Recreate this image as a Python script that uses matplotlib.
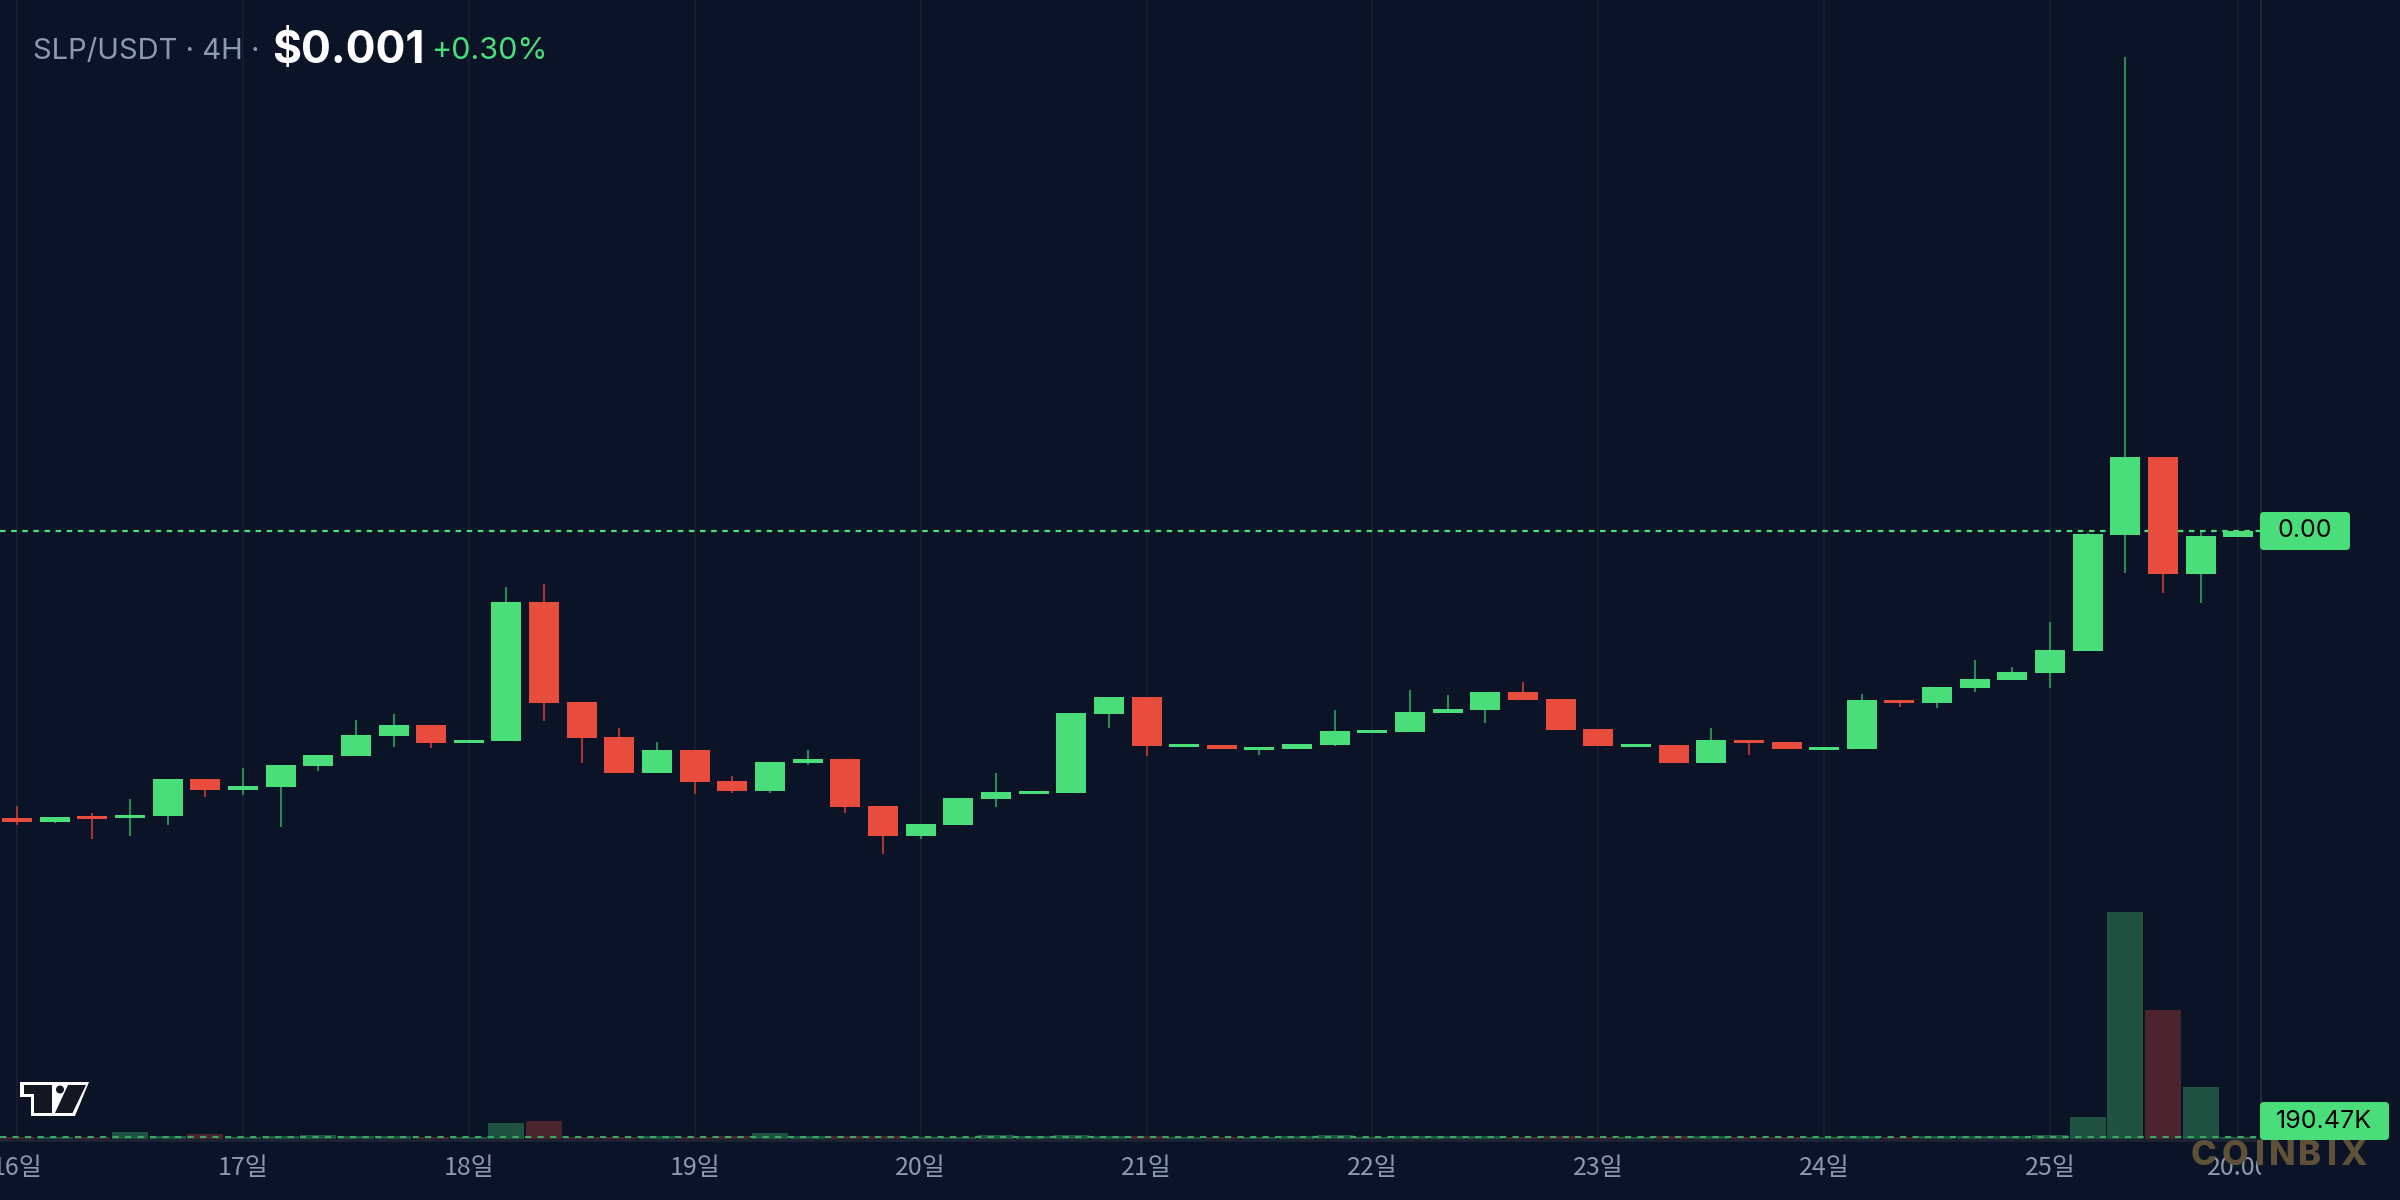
import numpy as np
import matplotlib
matplotlib.use("Agg")
import matplotlib.pyplot as plt
from matplotlib.patches import Polygon, Circle, FancyBboxPatch
from matplotlib.transforms import IdentityTransform

# prices in millionths of a USDT (4H candles, 16th 00:00 -> 25th 20:00)
opens = [850.8, 848.8, 851.8, 850.9, 852.0, 871.0, 865.5, 867.0, 878.0, 883.2,
         893.6, 899.1, 889.9, 890.9, 963.1, 911.1, 892.9, 874.3, 886.1, 870.0,
         865.0, 879.5, 881.4, 857.0, 841.6, 847.3, 860.8, 863.4, 863.9, 905.0,
         913.7, 887.8, 888.7, 886.3, 886.8, 888.9, 895.1, 895.6, 905.5, 907.1,
         916.3, 912.6, 897.0, 887.8, 888.7, 879.5, 891.3, 890.3, 886.3, 886.8,
         912.1, 910.7, 918.5, 922.7, 926.3, 937.8, 998.1, 1038.5, 977.8, 997.0]
highs = [857.0, 851.3, 853.4, 860.6, 871.0, 871.0, 876.8, 878.3, 883.5, 901.7,
         904.8, 899.1, 891.3, 970.9, 972.4, 911.1, 897.6, 890.3, 886.1, 872.6,
         879.9, 886.1, 881.4, 857.0, 847.6, 861.2, 874.2, 864.8, 905.4, 913.7,
         913.7, 889.2, 888.7, 887.7, 889.2, 906.9, 896.5, 917.3, 914.7, 916.3,
         921.5, 912.6, 897.0, 889.2, 888.7, 897.6, 891.3, 890.3, 887.7, 915.2,
         912.1, 918.9, 932.9, 929.3, 952.7, 999.0, 1246.5, 1038.5, 999.5, 1000.0]
lows = [847.1, 848.3, 840.0, 841.6, 847.1, 861.8, 862.9, 846.2, 875.4, 883.2,
        887.8, 887.3, 889.9, 890.9, 901.4, 879.5, 874.3, 874.3, 863.4, 863.9,
        863.9, 878.3, 853.4, 832.2, 840.0, 847.3, 856.6, 863.4, 863.9, 897.7,
        883.2, 887.8, 886.8, 883.7, 886.8, 888.4, 895.1, 895.6, 905.5, 900.3,
        912.3, 896.7, 888.4, 887.8, 879.5, 879.5, 883.7, 886.8, 886.3, 886.8,
        908.6, 908.1, 916.4, 922.7, 918.5, 937.8, 978.3, 967.9, 962.7, 997.0]
closes = [848.8, 851.3, 850.4, 852.3, 871.0, 865.5, 867.4, 878.3, 883.5, 893.9,
          899.1, 889.9, 891.3, 963.1, 910.7, 892.5, 874.3, 886.1, 869.6, 865.0,
          879.9, 881.4, 856.6, 841.6, 847.6, 861.2, 864.3, 864.8, 905.4, 913.7,
          888.4, 889.2, 886.8, 887.7, 889.2, 896.0, 896.5, 905.9, 907.4, 916.3,
          912.3, 896.7, 888.4, 889.2, 879.5, 891.3, 889.9, 886.8, 887.7, 912.1,
          910.7, 918.9, 923.0, 926.7, 938.1, 998.4, 1038.5, 977.8, 997.4, 1000.0]
# volume in thousands
volumes = [200, 210, 180, 680, 290, 480, 230, 260, 390, 300,
           280, 220, 200, 1520, 1710, 220, 200, 250, 230, 260,
           570, 270, 300, 240, 200, 230, 360, 250, 380, 310,
           300, 230, 220, 210, 260, 360, 220, 290, 240, 270,
           200, 260, 230, 200, 250, 280, 200, 210, 190, 300,
           210, 260, 270, 250, 380, 2090, 21560, 12250, 4940, 190.47]

day_labels = ["16일", "17일", "18일", "19일", "20일", "21일", "22일", "23일", "24일", "25일", "20:00"]
day_hours = [0, 24, 48, 72, 96, 120, 144, 168, 192, 216, 236]

title_pair = "SLP/USDT · 4H ·"
title_price = "$0.001"
title_change = "+0.30%"
price_label = "0.00"
volume_label = "190.47K"

UNIT = 1e-6
o = np.array(opens) * UNIT
h = np.array(highs) * UNIT
l = np.array(lows) * UNIT
c = np.array(closes) * UNIT
v = np.array(volumes)
x = np.arange(len(opens)) * 4.0  # hours since 16th 00:00

BG = "#0b1326"
GRID = "#151d2f"
UP = "#4ade7b"
DOWN = "#e74c3c"
UP_WICK = "#2b8a50"
DOWN_WICK = "#a83434"
VOL_UP = "#1f5240"
VOL_DOWN = "#4c2430"
TXT = "#8b99b1"
CJK = ["Noto Sans CJK KR", "DejaVu Sans"]
LAT = ["Inter", "DejaVu Sans"]

W, H = 2400, 1200
PLOT_R = 2261
PLOT_B = 1140
fig = plt.figure(figsize=(24, 12), dpi=100)
fig.patch.set_facecolor(BG)

rect = [0, (H - PLOT_B) / H, PLOT_R / W, PLOT_B / H]
vax = fig.add_axes(rect)
vax.set_facecolor(BG)
ax = fig.add_axes(rect, sharex=vax)
ax.set_facecolor("none")

px_per_hour = 37.65 / 4
xmin = -17 / px_per_hour
xmax = (PLOT_R - 17) / px_per_hour
vax.set_xlim(xmin, xmax)

# price scale: 0.52 µUSDT per pixel, 1000 at pixel row 531
ax.set_ylim((1000 - 0.52 * (PLOT_B - 531)) * UNIT, (1000 + 0.52 * 531) * UNIT)
vol_per_px = 95.0
vax.set_ylim(-vol_per_px, (PLOT_B - 1) * vol_per_px)

for hx in day_hours:
    vax.axvline(hx, color=GRID, lw=1.5, zorder=0)

up = c >= o
body_w = 30 / px_per_hour
vol_w = 36 / px_per_hour

vax.bar(x, v, width=vol_w, color=np.where(up, VOL_UP, VOL_DOWN), zorder=1)
vax.axhline(v[-1], color="#3aa862", lw=1.5, dashes=(3, 3), zorder=2)

ax.vlines(x, l, h, colors=np.where(up, UP_WICK, DOWN_WICK), lw=1.5, zorder=2)
body_lo = np.minimum(o, c)
body_h = np.maximum(np.abs(c - o), 1.2 * UNIT)
ax.bar(x, body_h, bottom=body_lo, width=body_w,
       color=np.where(up, UP, DOWN), zorder=3, linewidth=0)

ax.axhline(c[-1], color=UP, lw=1.6, dashes=(2.5, 2.5), zorder=1)

for a in (ax, vax):
    a.set_xticks([])
    a.set_yticks([])
    for s in a.spines.values():
        s.set_visible(False)
ax.spines["right"].set_visible(True)
ax.spines["right"].set_color("#1e2637")
ax.spines["right"].set_linewidth(1.5)
ax.spines["bottom"].set_visible(True)
ax.spines["bottom"].set_color("#1c2334")
ax.spines["bottom"].set_linewidth(2)

# watermark (under the time labels)
for ch, cx in zip("COINBIX", [2203, 2235, 2260, 2282, 2310, 2332, 2353]):
    fig.text(cx / W, (H - 1156) / H, ch, ha="center", va="center", fontsize=25,
             fontweight="heavy", color="#5e5137", family=LAT, zorder=1)

# time scale strip
tax = fig.add_axes([0, 0, PLOT_R / W, (H - PLOT_B) / H], sharex=vax)
tax.set_facecolor("none")
tax.set_ylim(0, 1)
tax.axis("off")
for hx, lab in zip(day_hours, day_labels):
    tax.text(hx, (H - 1168) / (H - PLOT_B), lab, ha="center", va="center",
             fontsize=18, color=TXT, family=CJK, fontweight="medium", clip_on=True)

# title
ty = (H - 51) / H
fig.text(33 / W, ty, title_pair, ha="left", va="center", fontsize=21, color=TXT, family=LAT)
fig.text(272 / W, ty, title_price, ha="left", va="center", fontsize=32, color="white",
         fontweight="bold", family=LAT)
fig.text(431 / W, ty, title_change, ha="left", va="center", fontsize=22, color=UP, family=LAT)

# last price / last volume boxes
fig.canvas.draw()
py = ax.transData.transform((0, c[-1]))[1]
box = FancyBboxPatch((2260, py - 19), 90, 38, boxstyle="round,pad=0,rounding_size=4",
                     transform=IdentityTransform(), facecolor=UP, edgecolor="none", zorder=10)
fig.add_artist(box)
fig.text(2305 / W, py / H, price_label, ha="center", va="center", fontsize=18,
         color="black", family=LAT, zorder=11)

vy = vax.transData.transform((0, v[-1]))[1]
vy = max(vy, (H - PLOT_B) + 19)
box2 = FancyBboxPatch((2260, vy - 19), 129, 38, boxstyle="round,pad=0,rounding_size=4",
                      transform=IdentityTransform(), facecolor=UP, edgecolor="none", zorder=10)
fig.add_artist(box2)
fig.text(2324 / W, vy / H, volume_label, ha="center", va="center", fontsize=18,
         color="black", family=LAT, zorder=11)

# TradingView mark
def fpx(pts):
    return [(px, H - py_) for px, py_ in pts]

outer = Polygon(fpx([(20, 1082), (89, 1082), (75, 1116), (31, 1116), (31, 1097), (20, 1097)]),
                closed=True, transform=IdentityTransform(), facecolor="white", edgecolor="none", zorder=10)
tee = Polygon(fpx([(23.5, 1085), (51.5, 1085), (51.5, 1113), (34, 1113), (34, 1093.5), (23.5, 1093.5)]),
              closed=True, transform=IdentityTransform(), facecolor="#131722", edgecolor="none", zorder=11)
slash = Polygon(fpx([(68, 1085), (86, 1085), (72.5, 1113), (55, 1113)]),
                closed=True, transform=IdentityTransform(), facecolor="#131722", edgecolor="none", zorder=11)
dot = Circle((60, H - 1089.5), 4, transform=IdentityTransform(), facecolor="#131722",
             edgecolor="none", zorder=11)
for p in (outer, tee, slash, dot):
    fig.add_artist(p)

fig.savefig("out.png", dpi=100, facecolor=BG)
